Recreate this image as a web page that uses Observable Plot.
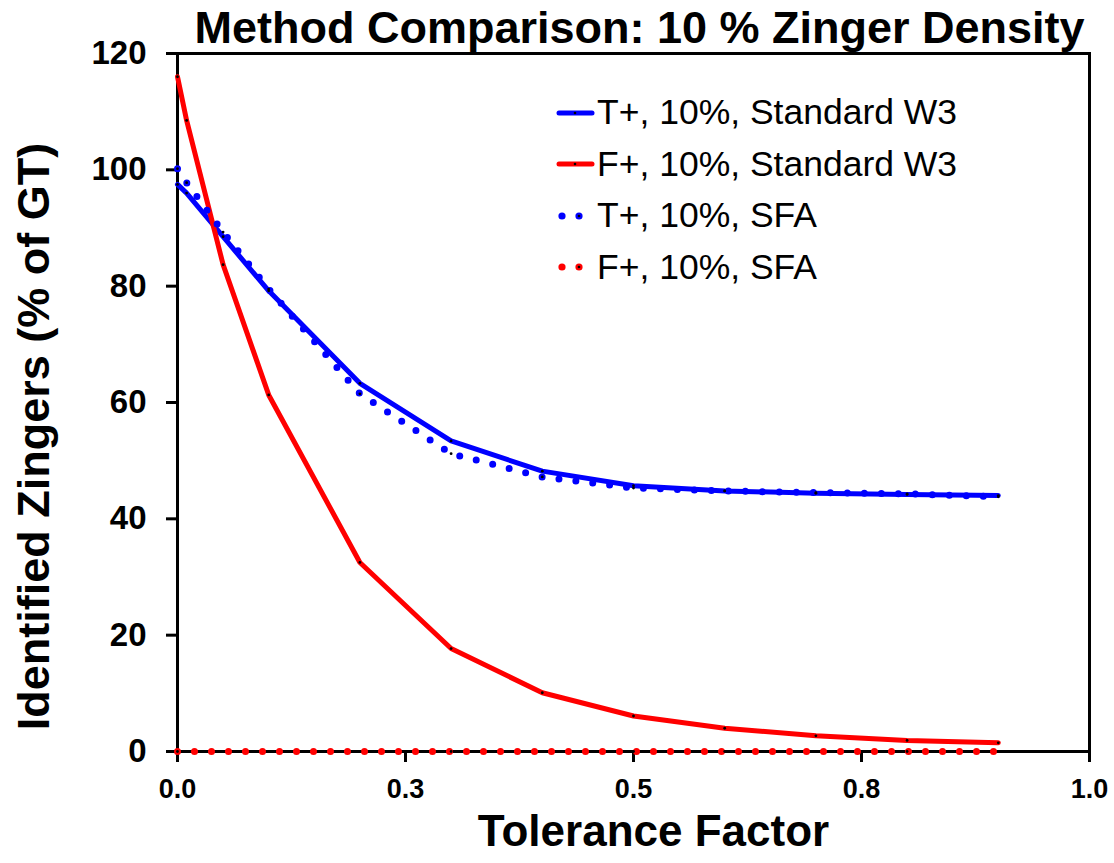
<!DOCTYPE html>
<html>
<head>
<meta charset="utf-8">
<script src="https://cdn.jsdelivr.net/npm/d3@7"></script>
<script src="https://cdn.jsdelivr.net/npm/@observablehq/plot@0.6"></script>
<style>
  html, body { margin: 0; padding: 0; background: #fff; }
  #wrap { position: relative; width: 1114px; height: 863px; }
  #legend { position: absolute; left: 553px; top: 87px; font-family: "Liberation Sans", Arial, sans-serif; font-size: 35.5px; color: #000; }
  #legend .row { display: flex; align-items: center; height: 51.5px; }
  #legend svg { margin-right: 2px; }
</style>
</head>
<body>
<div id="wrap"><div id="legend"></div></div>
<script>
const toleranceFactor = [0, 0.01, 0.05, 0.1, 0.2, 0.3, 0.4, 0.5, 0.6, 0.7, 0.8, 0.9];
const tPlusStandardW3 = [97.5, 96.0, 88.5, 79.2, 63.3, 53.4, 48.2, 45.7, 44.8, 44.4, 44.2, 44.0];
const fPlusStandardW3 = [116.0, 108.5, 83.7, 61.3, 32.5, 17.7, 10.1, 6.1, 4.0, 2.7, 1.9, 1.5];
const tPlusSFA = [100.2, 97.8, 89.3, 79.5, 61.5, 51.2, 47.2, 45.3, 44.8, 44.5, 44.3, 43.8];
const fPlusSFA = [0, 0, 0, 0, 0, 0, 0, 0, 0, 0, 0, 0];

const seriesNames = ["T+, 10%, Standard W3", "F+, 10%, Standard W3", "T+, 10%, SFA", "F+, 10%, SFA"];
const seriesColors = ["#0000ff", "#ff0000", "#0000ff", "#ff0000"];
const seriesDotted = [false, false, true, true];

const xTicks = [0, 0.25, 0.5, 0.75, 1.0];
const xTickLabels = ["0.0", "0.3", "0.5", "0.8", "1.0"];
const yTicks = [0, 20, 40, 60, 80, 100, 120];

const titleText = "Method Comparison: 10 % Zinger Density";
const xLabel = "Tolerance Factor";
const yLabel = "Identified Zingers (% of GT)";

const allValues = [tPlusStandardW3, fPlusStandardW3, tPlusSFA, fPlusSFA];
const data = [];
allValues.forEach((vals, s) => vals.forEach((v, i) => data.push({series: seriesNames[s], x: toleranceFactor[i], y: v})));

const font = "'Liberation Sans', Arial, sans-serif";

const lineMarks = seriesNames.map((name, s) => Plot.line(data.filter(d => d.series === name), {
  x: "x", y: "y", stroke: seriesColors[s],
  strokeWidth: seriesDotted[s] ? 7 : 5,
  strokeLinecap: "round", strokeLinejoin: "round",
  strokeDasharray: seriesDotted[s] ? "0 17" : null
}));

const chart = Plot.plot({
  width: 1114, height: 863,
  marginLeft: 177, marginRight: 25, marginTop: 53, marginBottom: 112,
  style: {fontFamily: font, color: "#000", background: "#fff", overflow: "visible"},
  x: {domain: [0, 1]},
  y: {domain: [0, 120]},
  marks: [
    Plot.frame({stroke: "black", strokeWidth: 3}),
    Plot.axisX({ticks: xTicks, tickFormat: (d) => xTickLabels[xTicks.indexOf(d)], tickSize: 11, strokeWidth: 3, tickPadding: 16, fontSize: 27, fontWeight: "bold", label: null}),
    Plot.axisY({ticks: yTicks, tickSize: 11, strokeWidth: 3, tickPadding: 20, fontSize: 33, fontWeight: "bold", label: null}),
    ...lineMarks,
    Plot.dot(data, {x: "x", y: "y", r: 1.4, fill: "black"}),
    Plot.text([titleText], {frameAnchor: "top", lineAnchor: "middle", dx: 6, dy: -25, fontSize: 45, fontWeight: "bold"}),
    Plot.text([xLabel], {frameAnchor: "bottom", lineAnchor: "middle", dx: 20, dy: 80, fontSize: 44, fontWeight: "bold"}),
    Plot.text([yLabel], {frameAnchor: "left", textAnchor: "middle", lineAnchor: "middle", dx: -143, dy: 34, rotate: -90, fontSize: 45, fontWeight: "bold"})
  ]
});
document.getElementById("wrap").prepend(chart);

const legend = document.getElementById("legend");
seriesNames.forEach((name, s) => {
  const row = document.createElement("div");
  row.className = "row";
  const ns = "http://www.w3.org/2000/svg";
  const svg = document.createElementNS(ns, "svg");
  svg.setAttribute("width", 42); svg.setAttribute("height", 20);
  if (seriesDotted[s]) {
    [9, 26].forEach((cx) => {
      const c = document.createElementNS(ns, "circle");
      c.setAttribute("cx", cx); c.setAttribute("cy", 10); c.setAttribute("r", 3.6); c.setAttribute("fill", seriesColors[s]);
      svg.appendChild(c);
    });
  } else {
    const l = document.createElementNS(ns, "line");
    l.setAttribute("x1", 6); l.setAttribute("x2", 39); l.setAttribute("y1", 10); l.setAttribute("y2", 10);
    l.setAttribute("stroke", seriesColors[s]); l.setAttribute("stroke-width", 5); l.setAttribute("stroke-linecap", "round");
    svg.appendChild(l);
  }
  const m = document.createElementNS(ns, "circle");
  m.setAttribute("cx", seriesDotted[s] ? 26 : 22); m.setAttribute("cy", 10); m.setAttribute("r", 1.3); m.setAttribute("fill", "black");
  svg.appendChild(m);
  row.appendChild(svg);
  const span = document.createElement("span");
  span.textContent = name;
  row.appendChild(span);
  legend.appendChild(row);
});
</script>
</body>
</html>
